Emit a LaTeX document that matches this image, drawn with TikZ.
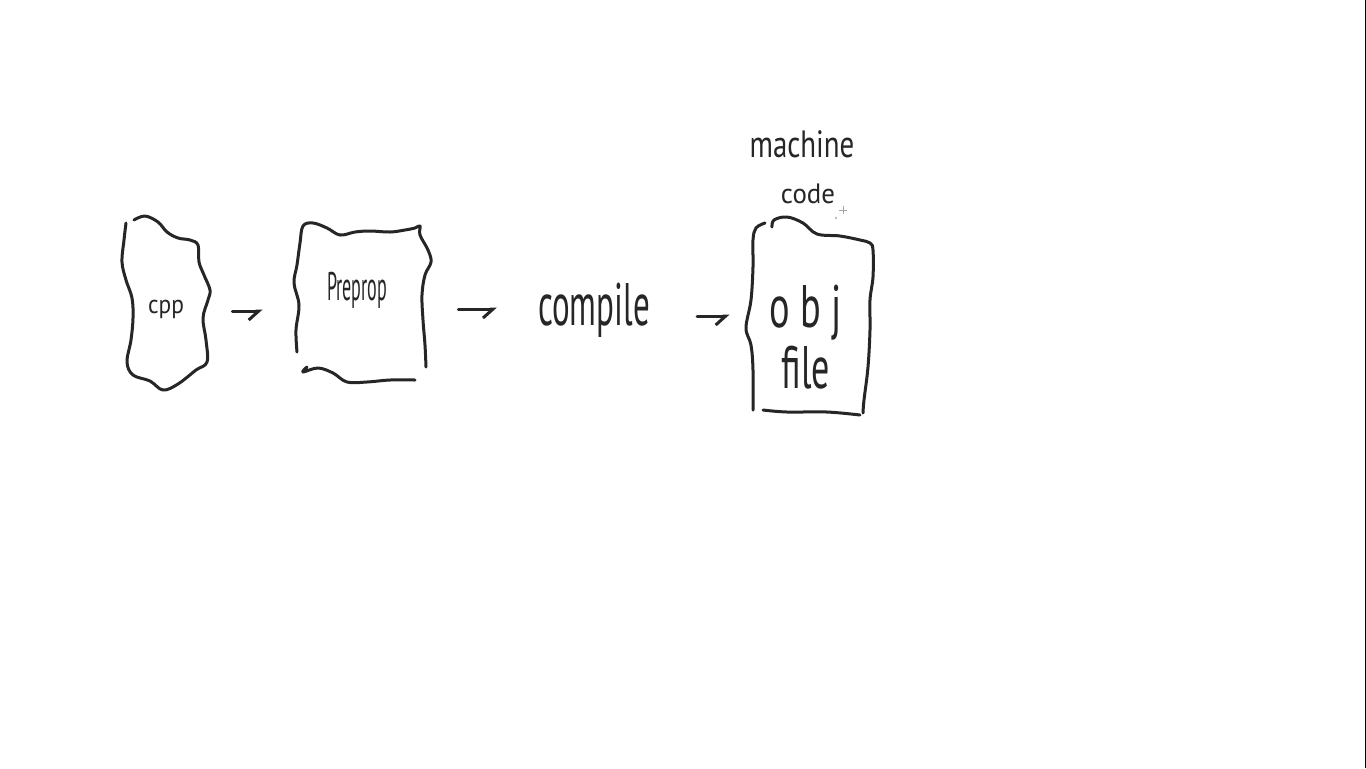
\documentclass[tikz,border=0pt]{standalone}
\usepackage{fontspec}
\setmainfont{PT Sans}
\usetikzlibrary{arrows.meta}
\definecolor{pen}{HTML}{262626}
\begin{document}
\begin{tikzpicture}[x=0.5pt,y=-0.5pt,
  ink/.style={draw=pen, line width=1.5pt, line cap=round, line join=round},
  wavy/.style={ink, smooth, tension=0.6},
  hand/.style={text=pen, anchor=base, inner sep=0pt},
  box/.style={inner sep=0pt, draw=none},
  arr/.style={ink, -{Straight Barb[harpoon,swap,length=5pt,width=9pt,line width=1.5pt]}}]
\useasboundingbox (0,0) rectangle (1366,768);
\fill[white] (0,0) rectangle (1366,768);
\fill[black] (1364.5,0) rectangle (1366,768);

% frames that the connectors attach to
\node[box, minimum width=44pt, minimum height=87.5pt] (cppbox) at (166,303) {};
\node[box, minimum width=70pt, minimum height=81.5pt] (prebox) at (362,303) {};
\node[box, minimum width=64pt, minimum height=99pt] (objbox) at (809,316) {};

% labels
\node[hand, font=\fontsize{13}{15}\selectfont, xscale=0.9] (cpp) at (166,313) {cpp};
\node[hand, font=\fontsize{20}{24}\selectfont, xscale=0.45] (preprop) at (357,300) {Preprop};
\node[hand, font=\fontsize{30}{36}\selectfont, xscale=0.55] (compile) at (594,325) {compile};
\node[hand, font=\fontsize{30}{36}\selectfont, xscale=0.64] (obj) at (806,327) {o b j};
\node[hand, font=\fontsize{30}{36}\selectfont, xscale=0.6] (file) at (806,388) {file};
\node[hand, font=\fontsize{19}{23}\selectfont, xscale=0.76] (machine) at (802,157) {machine};
\node[hand, font=\fontsize{14}{17}\selectfont, xscale=0.96] (code) at (808,203) {code};

% cpp outline
\draw[wavy] plot coordinates {(126,223) (124,240) (122,262) (126,280) (132,298) (133,318)
  (131,340) (127,362) (133,375) (150,381) (163,390) (178,384) (196,370) (207,362)
  (206,340) (203,318) (208,300) (210,290) (204,275) (199,262) (198,245) (190,240)
  (178,238) (167,232) (158,222) (145,216) (134,220)};

% Preprop outline
\draw[wavy] plot coordinates {(297,352) (296,330) (299,305) (294,283) (297,265) (300,243)
  (303,226) (313,223) (327,228) (340,235) (355,232) (370,231) (390,232) (405,230)
  (415,228) (420,226) (420,235) (428,250) (431,262) (425,275) (422,295) (423,320)
  (425,345) (426,367)};
\draw[wavy] plot coordinates {(307,367) (303,372) (318,368) (333,373) (347,382) (367,382)
  (390,380) (415,380)};

% obj file outline
\draw[wavy] plot coordinates {(765,223) (756,228) (753,240) (753,267) (751,300) (746,328)
  (751,345) (753,370) (753,410)};
\draw[wavy] plot coordinates {(772,227) (774,220) (787,217) (803,223) (817,234) (840,236)
  (860,240) (870,243) (873,250) (873,277) (870,300) (870,330) (868,367) (864,400) (863,413)};
\draw[wavy] plot coordinates {(763,410) (787,412) (827,412) (860,415)};

% pen sparkle next to "code"
\draw[draw=black!35, line width=0.4pt] (843,206) -- (843,214) (839,210) -- (847,210);
\fill[black!35] (836,218) circle (0.6pt);

% connectors
\draw[arr, shorten <=11pt, shorten >=14.5pt] ([yshift=-4pt]cppbox.east) -- ([yshift=-4pt]prebox.west);
\draw[arr, shorten <=13pt, shorten >=20.5pt] ([yshift=-3pt]prebox.east) -- ([yshift=-3pt]prebox.east -| compile.west);
\draw[arr, shorten <=23.5pt, shorten >=7.5pt] (objbox.west -| compile.east) -- (objbox.west);
\end{tikzpicture}
\end{document}
